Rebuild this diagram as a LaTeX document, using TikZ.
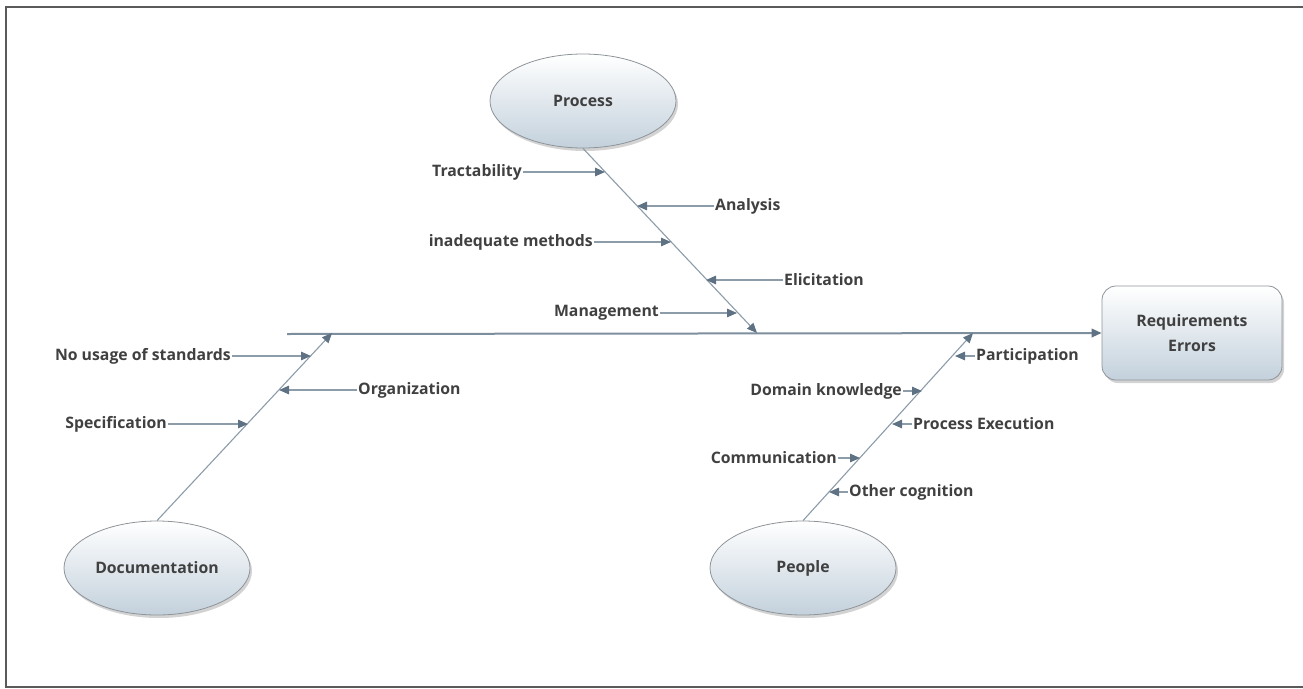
\documentclass[tikz,border=0pt]{standalone}
\usepackage{fontspec}
\setmainfont{Open Sans}
\usetikzlibrary{arrows.meta,shapes.geometric,shadows}
\definecolor{bonec}{HTML}{8C9CA9}
\definecolor{tipc}{HTML}{5E7284}
\definecolor{spinec}{HTML}{7D8E9C}
\definecolor{txt}{HTML}{404040}
\definecolor{fillbot}{HTML}{C3D1DC}
\definecolor{edgec}{HTML}{8E9499}
\definecolor{framec}{HTML}{5A5A5A}
\begin{document}
\begin{tikzpicture}[x=1pt,y=-1pt,
  headtip/.style={-{Triangle[length=10pt,width=8.5pt,color=tipc]}},
  cause/.style={draw=bonec,line width=1.3pt,headtip},
  bone/.style={draw=bonec,line width=1.1pt,headtip},
  spine/.style={draw=spinec,line width=2pt,headtip},
  lbl/.style={font=\bfseries\fontsize{15.8}{18}\selectfont,text=txt,inner sep=1pt},
  category/.style={ellipse,draw=edgec,line width=0.8pt,top color=white,bottom color=fillbot,
    minimum width=186pt,minimum height=94pt,inner sep=0pt,
    drop shadow={shadow xshift=2pt,shadow yshift=-3pt,opacity=0.35},
    font=\bfseries\fontsize{15.8}{18}\selectfont,text=txt},
  effectbox/.style={rectangle,rounded corners=14pt,draw=edgec,line width=0.8pt,top color=white,bottom color=fillbot,
    minimum width=180pt,minimum height=94pt,inner sep=0pt,align=center,
    drop shadow={shadow xshift=2pt,shadow yshift=-3pt,opacity=0.35},
    font=\bfseries\fontsize{15.8}{25}\selectfont,text=txt}]
\useasboundingbox (0,0) rectangle (1303,688);
% frame
\draw[framec,line width=1.6pt] (1303,7) -- (6,7) -- (6,687) -- (1303,687);

% effect and spine
\node[effectbox] (effect) at (1192,333) {Requirements\\Errors};
\coordinate (spineL) at (287,334);
\draw[spine] (spineL) -- (effect.west);

% categories
\node[category] (proc) at (583,101) {Process};
\node[category] (doc) at (157,568) {Documentation};
\node[category] (ppl) at (803,568) {People};

% main bones
\coordinate (procTip) at (757,333);
\coordinate (docTip) at (332,333);
\coordinate (pplTip) at (973,333);
\draw[bone] (proc.south) -- (procTip);
\draw[bone] (doc.north) -- (docTip);
\draw[bone] (ppl.north) -- (pplTip);

% causes on the process bone
\coordinate (tTrac) at (605,172);
\coordinate (tAnal) at (637,206);
\coordinate (tInad) at (671,242);
\coordinate (tElic) at (706,280);
\coordinate (tMgmt) at (737,313);
\node[lbl,anchor=east] (trac) at (523,172) {Tractability};
\node[lbl,anchor=west] (anal) at (714,206) {Analysis};
\node[lbl,anchor=east] (inad) at (594,242) {inadequate methods};
\node[lbl,anchor=west] (elic) at (783,280) {Elicitation};
\node[lbl,anchor=east] (mgmt) at (660,313) {Management};
\draw[cause] (trac.east) -- (tTrac);
\draw[cause] (anal.west) -- (tAnal);
\draw[cause] (inad.east) -- (tInad);
\draw[cause] (elic.west) -- (tElic);
\draw[cause] (mgmt.east) -- (tMgmt);

% causes on the documentation bone
\coordinate (tStd) at (311,356);
\coordinate (tOrg) at (279,390);
\coordinate (tSpec) at (248,424);
\node[lbl,anchor=east] (std) at (232,356) {No usage of standards};
\node[lbl,anchor=west] (org) at (357,390) {Organization};
\node[lbl,anchor=east] (spec) at (168,424) {Specification};
\draw[cause] (std.east) -- (tStd);
\draw[cause] (org.west) -- (tOrg);
\draw[cause] (spec.east) -- (tSpec);

% causes on the people bone
\coordinate (tPart) at (955,356);
\coordinate (tDom) at (922,391);
\coordinate (tExec) at (892,424);
\coordinate (tComm) at (860,458);
\coordinate (tCog) at (829,492);
\node[lbl,anchor=west] (part) at (975,356) {Participation};
\node[lbl,anchor=east] (dom) at (903,391) {Domain knowledge};
\node[lbl,anchor=west] (exec) at (912,424) {Process Execution};
\node[lbl,anchor=east] (comm) at (838,458) {Communication};
\node[lbl,anchor=west] (cog) at (848,492) {Other cognition};
\draw[cause] (part.west) -- (tPart);
\draw[cause] (dom.east) -- (tDom);
\draw[cause] (exec.west) -- (tExec);
\draw[cause] (comm.east) -- (tComm);
\draw[cause] (cog.west) -- (tCog);
\end{tikzpicture}
\end{document}
